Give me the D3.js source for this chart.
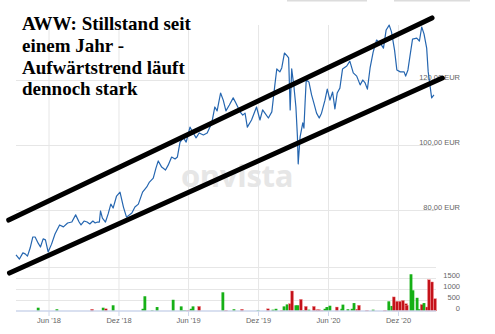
<!DOCTYPE html>
<html>
<head>
<meta charset="utf-8">
<script src="https://cdn.jsdelivr.net/npm/d3@7"></script>
<style>
  body { margin: 0; background: #fff; }
  svg { display: block; }
</style>
</head>
<body>
<script>
var titleLines = ["AWW: Stillstand seit", "einem Jahr -", "Aufwärtstrend läuft", "dennoch stark"];

// Kurs (EUR)
var priceDates = ["2018-03-08","2018-03-17","2018-03-26","2018-04-01","2018-04-07","2018-04-14","2018-04-21","2018-04-27","2018-05-05","2018-05-11","2018-05-18","2018-05-24","2018-05-31","2018-06-09","2018-06-18","2018-06-30","2018-07-10","2018-07-21","2018-08-01","2018-08-11","2018-08-20","2018-08-25","2018-09-02","2018-09-10","2018-09-17","2018-09-25","2018-10-01","2018-10-07","2018-10-12","2018-10-15","2018-10-20","2018-10-28","2018-11-04","2018-11-11","2018-11-17","2018-11-26","2018-12-05","2018-12-14","2018-12-22","2019-01-05","2019-01-13","2019-01-22","2019-02-02","2019-02-13","2019-02-20","2019-03-02","2019-03-09","2019-03-15","2019-03-24","2019-04-03","2019-04-10","2019-04-19","2019-04-28","2019-05-04","2019-05-11","2019-05-20","2019-05-27","2019-06-06","2019-06-13","2019-06-22","2019-06-30","2019-07-11","2019-07-21","2019-08-02","2019-08-10","2019-08-16","2019-08-25","2019-09-01","2019-09-08","2019-09-17","2019-09-27","2019-10-04","2019-10-15","2019-10-22","2019-10-28","2019-11-03","2019-11-14","2019-11-27","2019-12-06","2019-12-13","2019-12-19","2019-12-28","2020-01-06","2020-01-14","2020-01-19","2020-01-27","2020-02-01","2020-02-08","2020-02-15","2020-02-19","2020-02-23","2020-02-27","2020-03-04","2020-03-09","2020-03-13","2020-03-15","2020-03-20","2020-03-27","2020-03-30","2020-04-02","2020-04-05","2020-04-12","2020-04-19","2020-04-25","2020-05-02","2020-05-09","2020-05-15","2020-05-24","2020-05-30","2020-06-06","2020-06-13","2020-06-19","2020-06-25","2020-07-02","2020-07-09","2020-07-20","2020-07-28","2020-08-06","2020-08-15","2020-08-24","2020-08-31","2020-09-06","2020-09-12","2020-09-19","2020-09-27","2020-10-06","2020-10-15","2020-10-24","2020-10-31","2020-11-08","2020-11-14","2020-11-22","2020-11-28","2020-12-07","2020-12-17","2020-12-21","2020-12-27","2021-01-01","2021-01-08","2021-01-19","2021-01-26","2021-02-01","2021-02-07","2021-02-14","2021-02-18","2021-02-27","2021-03-05"];
var priceValues = [66.2,64.9,66.8,66.5,65.8,68.3,71.7,71.7,69.8,68.6,71.1,70.8,67.1,69.5,72.6,75.4,74.8,76.0,76.3,78.5,76.3,75.4,76.6,76.3,75.7,76.6,76.0,76.3,76.3,79.7,77.5,76.3,78.8,81.8,80.6,84.3,85.5,80.9,77.8,79.1,80.9,81.8,85.5,87.1,88.6,89.8,92.9,95.1,93.2,92.3,93.8,96.3,95.7,96.3,100.9,102.2,100.9,105.5,104.0,102.2,103.7,103.1,103.7,106.8,111.7,110.5,116.0,113.8,110.5,112.3,114.5,112.9,110.2,109.2,109.8,105.5,107.7,111.7,107.7,110.8,109.8,108.3,110.2,118.5,123.4,122.5,123.7,128.3,127.4,126.8,110.8,123.4,117.8,111.7,102.5,94.2,102.5,106.8,105.2,113.0,120.0,119.4,115.4,112.9,109.8,108.3,109.8,113.8,117.2,113.8,116.3,111.1,116.0,117.5,123.4,124.3,125.8,122.2,121.2,118.5,120.0,119.1,117.2,123.7,128.6,132.3,131.4,129.8,135.4,136.9,134.8,129.2,123.1,122.5,122.5,121.2,123.1,127.1,132.6,132.9,132.0,136.3,134.2,129.8,122.5,114.5,115.4];

// Umsatz (Stück), Farbe: 1 = steigend (grün), 0 = fallend (rot)
var volDates = ["2018-05-05","2018-06-23","2018-09-23","2018-10-22","2018-10-29","2018-11-17","2019-02-03","2019-02-08","2019-02-27","2019-03-12","2019-04-23","2019-05-14","2019-05-19","2019-05-24","2019-06-01","2019-06-09","2019-06-14","2019-06-30","2019-08-31","2019-09-08","2019-09-29","2019-10-20","2019-12-01","2019-12-27","2020-01-09","2020-01-17","2020-02-02","2020-02-07","2020-02-15","2020-02-23","2020-02-28","2020-03-09","2020-03-14","2020-03-22","2020-03-30","2020-04-04","2020-04-12","2020-04-25","2020-05-03","2020-05-08","2020-05-16","2020-05-24","2020-05-29","2020-06-06","2020-06-24","2020-07-07","2020-07-10","2020-07-23","2020-08-03","2020-08-08","2020-08-16","2020-08-21","2020-09-11","2020-09-27","2020-10-28","2020-11-07","2020-11-15","2020-11-20","2020-11-28","2020-12-06","2020-12-14","2020-12-22","2020-12-24","2021-01-04","2021-01-09","2021-01-20","2021-01-25","2021-02-01","2021-02-07","2021-02-15","2021-02-20","2021-02-28","2021-03-08"];
var volValues = [150,80,80,150,100,260,100,670,30,180,510,210,30,30,30,100,210,210,850,30,80,80,30,100,60,100,30,210,300,330,910,260,260,530,30,210,60,210,60,60,30,100,180,240,180,100,290,80,100,360,80,260,30,60,30,440,230,640,440,440,480,330,260,1670,940,600,80,290,360,180,1420,1320,560];
var volUp = [1,1,0,1,0,1,1,1,1,1,1,1,1,1,0,1,1,0,1,0,1,0,1,0,1,1,0,1,1,0,0,1,1,0,1,0,1,0,0,0,0,1,1,1,0,1,1,1,1,1,0,0,0,1,0,1,1,0,0,0,0,0,0,1,1,1,1,0,1,0,0,0,0];

// Trendkanal (Start/Ende)
var channelUpper = [["2018-02-17", 76.9], ["2021-02-28", 139.1]];
var channelLower = [["2018-02-19", 60.6], ["2021-03-27", 120.6]];

var xTicks = ["2018-06-01","2018-12-01","2019-06-01","2019-12-01","2020-06-01","2020-12-01"];
var priceTicks = [80, 100, 120];
var volTicks = [0, 500, 1000, 1500];

(function () {
    var width = 495, height = 334;
    var left = 16, right = 436;
    var parse = d3.timeParse("%Y-%m-%d");
    var monthNames = {6: "Jun", 12: "Dez"};

    var svg = d3.select("body").append("svg")
        .attr("width", width)
        .attr("height", height)
        .style("font-family", "'Liberation Sans', Arial, sans-serif");

    var x = d3.scaleTime()
        .domain([parse("2018-06-01"), parse("2020-12-01")])
        .range([48.5, 398]);
    var y = d3.scaleLinear().domain([80, 120]).range([210, 80]);
    var yv = d3.scaleLinear().domain([0, 1500]).range([311, 278]);

    // kleine Reste der Buttons oben
    svg.append("rect").attr("x", 287).attr("y", 0).attr("width", 80).attr("height", 1.5).attr("fill", "#dcdcdc");
    svg.append("rect").attr("x", 394).attr("y", 0).attr("width", 76).attr("height", 1.5).attr("fill", "#dcdcdc");

    // vertikale Gitterlinien
    svg.append("g")
        .attr("transform", "translate(0,25)")
        .call(d3.axisBottom(x).tickValues(xTicks.map(parse)).tickSize(286).tickFormat(""))
        .call(function (g) {
            g.select(".domain").remove();
            g.selectAll("line").attr("stroke", "#e6e6e6");
        });

    // Kurs-Gitter
    svg.append("g")
        .attr("transform", "translate(" + left + ",0)")
        .call(d3.axisRight(y).tickValues(priceTicks).tickSize(right - left).tickFormat(""))
        .call(function (g) {
            g.select(".domain").remove();
            g.selectAll("line").attr("stroke", "#e6e6e6");
        });

    // Umsatz-Gitter
    svg.append("g")
        .attr("transform", "translate(" + left + ",0)")
        .call(d3.axisRight(yv).tickValues([500, 1000, 1500, 2000]).tickSize(right - left).tickFormat(""))
        .call(function (g) {
            g.select(".domain").remove();
            g.selectAll("line").attr("stroke", "#e6e6e6");
        });

    // Wasserzeichen
    svg.append("text")
        .attr("x", 237).attr("y", 187)
        .attr("text-anchor", "middle")
        .attr("font-family", "'Open Sans', 'DejaVu Sans', sans-serif")
        .attr("font-weight", "bold")
        .attr("font-size", 31)
        .attr("letter-spacing", -0.3)
        .attr("fill", "#e6e6e6")
        .text("onvista");

    // Achsenbeschriftung Kurs
    svg.append("g")
        .attr("transform", "translate(460,0)")
        .call(d3.axisLeft(y).tickValues(priceTicks).tickSize(0).tickPadding(0)
            .tickFormat(function (d) { return d3.format(".2f")(d).replace(".", ",") + " EUR"; }))
        .call(function (g) {
            g.select(".domain").remove();
            g.selectAll("text").attr("font-size", 7.5).attr("fill", "#666").attr("dy", "-0.05em")
                .attr("font-family", "'Liberation Sans', Arial, sans-serif");
        });

    // Umsatzbalken
    svg.append("g").selectAll("rect")
        .data(volDates.map(function (d, i) { return {date: parse(d), v: volValues[i], up: volUp[i]}; }))
        .enter().append("rect")
        .attr("x", function (d) { return x(d.date) - 1.4; })
        .attr("y", function (d) { return yv(d.v); })
        .attr("width", 2.8)
        .attr("height", function (d) { return yv(0) - yv(d.v); })
        .attr("fill", function (d) { return d.up ? "#16b016" : "#c4121a"; })
        .attr("stroke", function (d) { return d.up ? "none" : "#e88"; })
        .attr("stroke-width", 0.4);

    // Achsenbeschriftung Umsatz
    svg.append("g")
        .attr("transform", "translate(460,0)")
        .call(d3.axisLeft(yv).tickValues(volTicks).tickSize(0).tickPadding(0).tickFormat(d3.format("d")))
        .call(function (g) {
            g.select(".domain").remove();
            g.selectAll("text").attr("font-size", 7.5).attr("fill", "#666").attr("dy", "-0.05em")
                .attr("font-family", "'Liberation Sans', Arial, sans-serif");
        });

    // Zeitachse
    svg.append("g")
        .attr("transform", "translate(0,311)")
        .call(d3.axisBottom(x).tickValues(xTicks.map(parse)).tickSize(5).tickPadding(2)
            .tickFormat(function (d) { return monthNames[d.getMonth() + 1] + " '" + d3.timeFormat("%y")(d); }))
        .call(function (g) {
            g.select(".domain").remove();
            g.selectAll("line").attr("stroke", "#ccd6eb");
            g.selectAll("text").attr("font-size", 7.5).attr("fill", "#666")
                .attr("font-family", "'Liberation Sans', Arial, sans-serif");
        });
    svg.append("line")
        .attr("x1", left).attr("x2", right)
        .attr("y1", yv(0)).attr("y2", yv(0))
        .attr("stroke", "#ccd6eb").attr("stroke-width", 1.5);

    // Kurslinie
    var line = d3.line()
        .x(function (d) { return x(d.date); })
        .y(function (d) { return y(d.p); });
    svg.append("path")
        .datum(priceDates.map(function (d, i) { return {date: parse(d), p: priceValues[i]}; }))
        .attr("d", line)
        .attr("fill", "none")
        .attr("stroke", "#2566b0")
        .attr("stroke-width", 1.2)
        .attr("stroke-linejoin", "round");

    // Trendkanal
    [channelUpper, channelLower].forEach(function (c) {
        svg.append("path")
            .datum(c.map(function (d) { return {date: parse(d[0]), p: d[1]}; }))
            .attr("d", line)
            .attr("stroke", "#000")
            .attr("stroke-width", 5)
            .attr("stroke-linecap", "round");
    });

    // Titel
    svg.append("text")
        .attr("font-family", "'Liberation Serif', 'Times New Roman', serif")
        .attr("font-weight", "bold")
        .attr("font-size", 19)
        .attr("fill", "#000")
        .selectAll("tspan")
        .data(titleLines)
        .enter().append("tspan")
        .attr("x", 22)
        .attr("y", function (d, i) { return 30 + i * 21.8; })
        .text(function (d) { return d; });
}());
</script>
</body>
</html>
